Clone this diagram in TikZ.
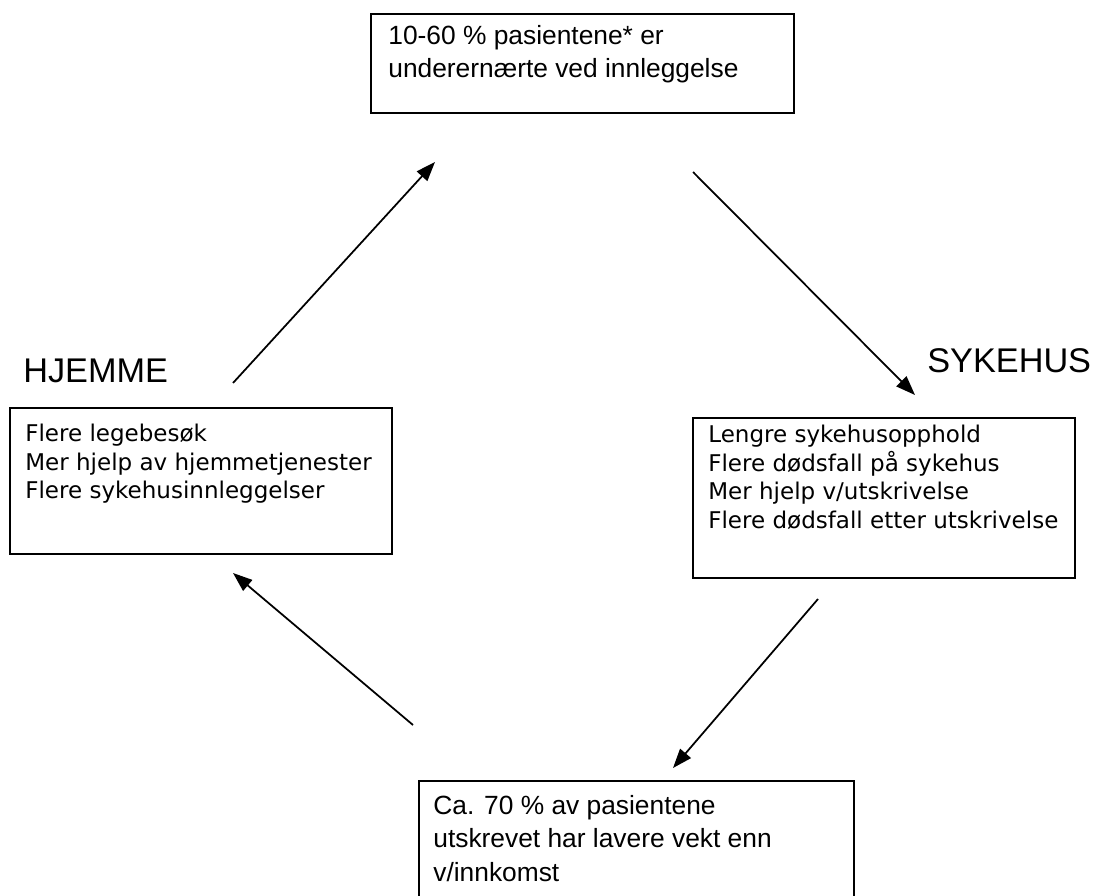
\documentclass[tikz,border=0pt]{standalone}
\usepackage{fontspec}
\setmainfont{Liberation Sans}
\newfontfamily\verdana{DejaVu Sans}
\usetikzlibrary{arrows.meta}

\tikzset{
  box/.style={draw, line width=1.1pt, anchor=north west, inner sep=0pt},
  txt/.style={anchor=north west, align=left, inner sep=0pt},
  arial/.style={font=\fontsize{15}{19}\selectfont},
  verd/.style={font=\verdana\fontsize{13.1}{16.2}\selectfont},
  arr/.style={line width=1pt, -{Triangle[length=11pt,width=8pt]}},
}

\begin{document}
\begin{tikzpicture}[x=0.02cm, y=-0.02cm]
\clip (0,0) rectangle (1094,895);

% bokser
\node[box, minimum width=8.46cm, minimum height=1.98cm] (innl) at (370,13) {};
\node[txt, arial] (innltxt) at (388,25) {10-60 \% pasientene* er\\underernærte ved innleggelse};

\node[box, minimum width=7.64cm, minimum height=2.92cm] (hjem) at (9,407) {};
\node[txt, verd] (hjemtxt) at (25,424) {Flere legebesøk\\Mer hjelp av hjemmetjenester\\Flere sykehusinnleggelser};

\node[box, minimum width=7.64cm, minimum height=3.2cm] (syk) at (692,417) {};
\node[txt, verd] (syktxt) at (708,425) {Lengre sykehusopphold\\Flere dødsfall på sykehus\\Mer hjelp v/utskrivelse\\Flere dødsfall etter utskrivelse};

\node[box, minimum width=8.7cm, minimum height=2.6cm] (utskr) at (418,780) {};
\node[txt, arial] (utskrtxt) at (433,795) {Ca. 70 \% av pasientene\\utskrevet har lavere vekt enn\\v/innkomst};

% overskrifter
\node[anchor=base west, inner sep=0pt, font=\fontsize{19.5}{22}\selectfont] (hjemme) at (23,382) {HJEMME};
\node[anchor=base west, inner sep=0pt, font=\fontsize{19.5}{22}\selectfont] (sykehus) at (927,372) {SYKEHUS};

% piler
\coordinate (a1) at (233,383); \coordinate (b1) at (435,162);
\coordinate (a2) at (693,172); \coordinate (b2) at (915,395);
\coordinate (a3) at (818,599); \coordinate (b3) at (673,768);
\coordinate (a4) at (413,725); \coordinate (b4) at (233,573);
\draw[arr] (a1) -- (b1);
\draw[arr] (a2) -- (b2);
\draw[arr] (a3) -- (b3);
\draw[arr] (a4) -- (b4);
\end{tikzpicture}
\end{document}
